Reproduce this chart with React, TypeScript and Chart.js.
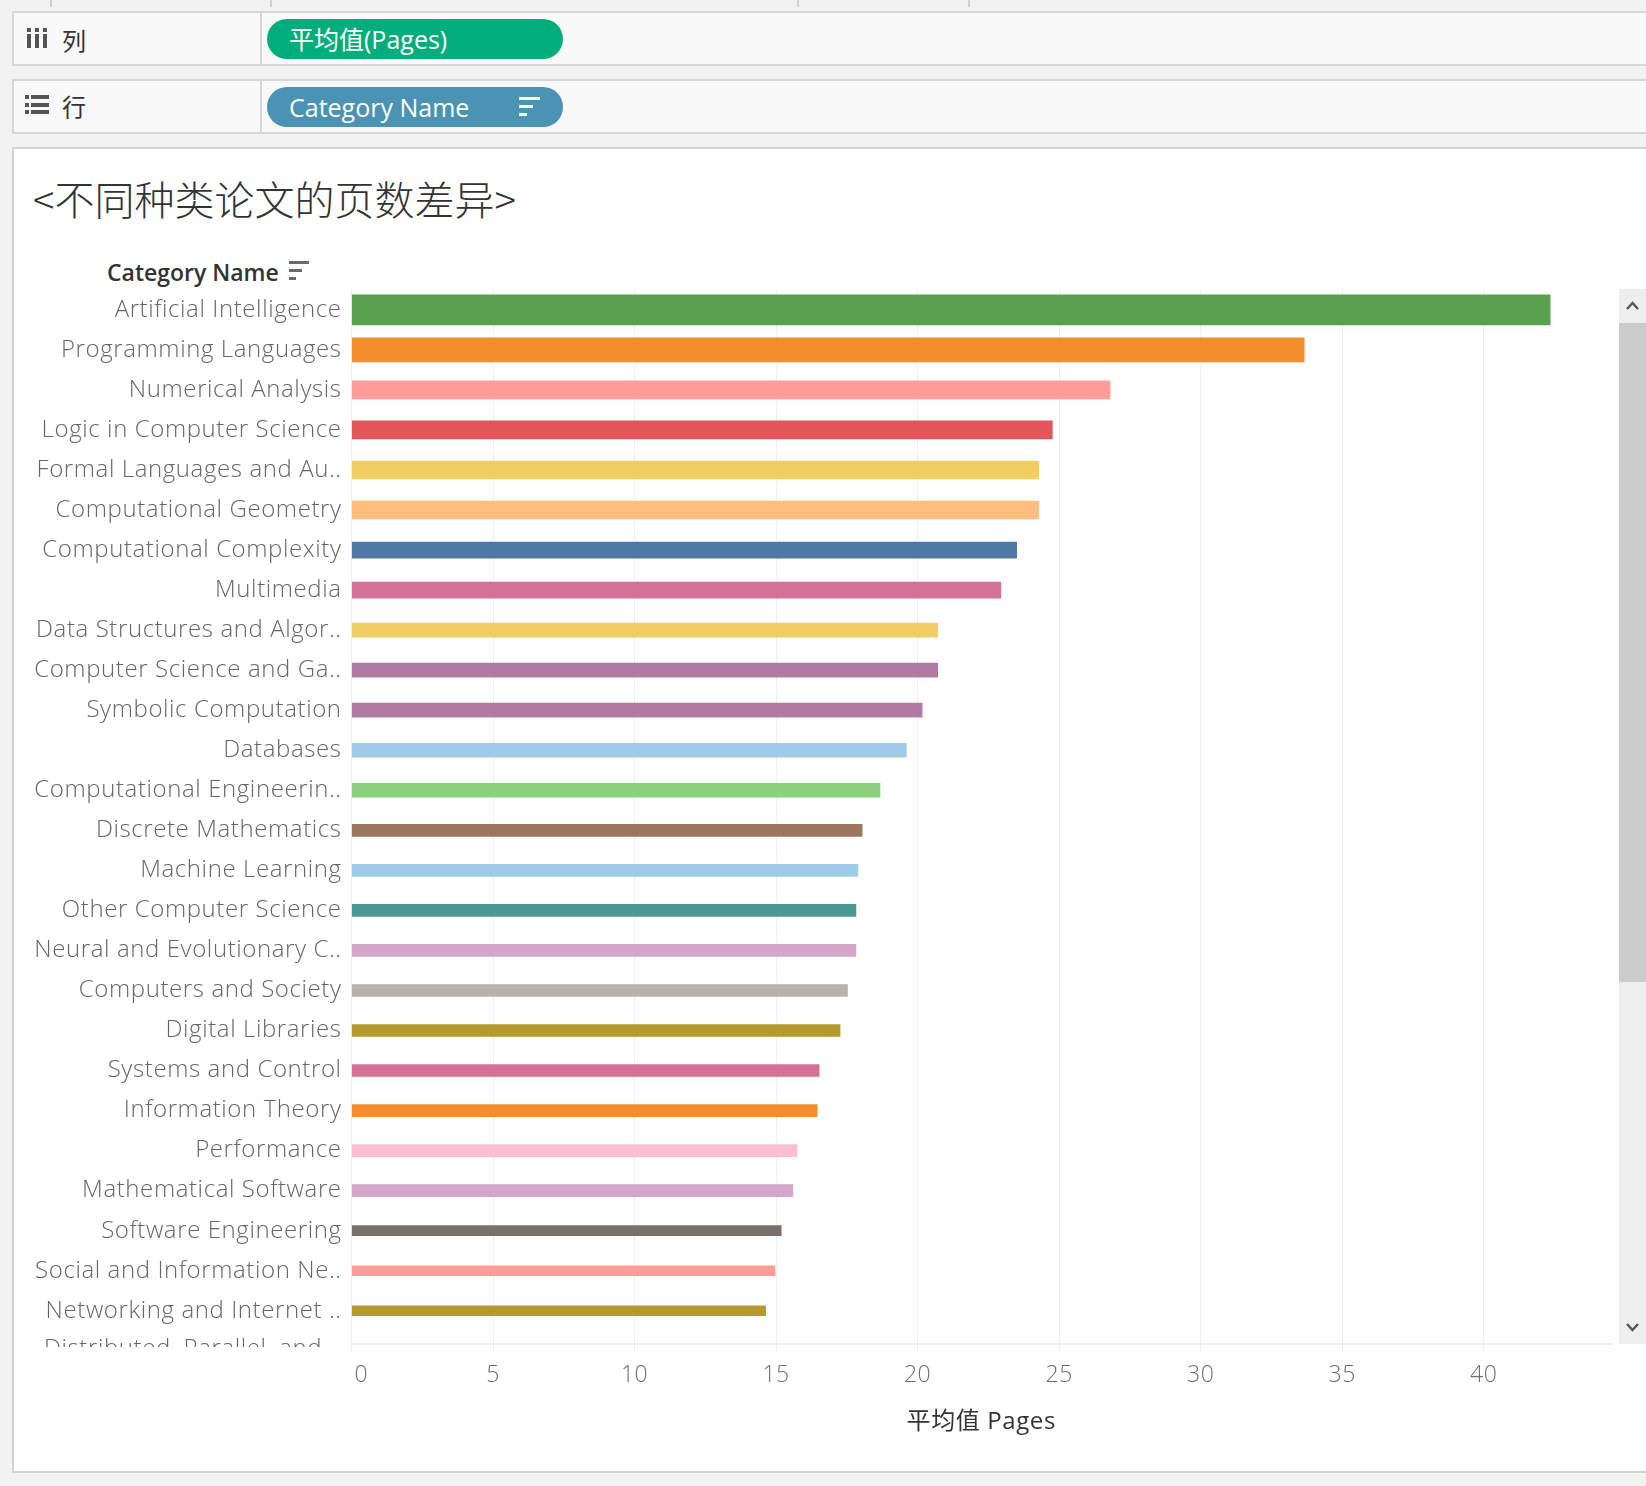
import React, { useEffect, useRef } from "react";
import { Chart, registerables } from "chart.js";

Chart.register(...registerables);

const categories = [
  "Artificial Intelligence",
  "Programming Languages",
  "Numerical Analysis",
  "Logic in Computer Science",
  "Formal Languages and Au..",
  "Computational Geometry",
  "Computational Complexity",
  "Multimedia",
  "Data Structures and Algor..",
  "Computer Science and Ga..",
  "Symbolic Computation",
  "Databases",
  "Computational Engineerin..",
  "Discrete Mathematics",
  "Machine Learning",
  "Other Computer Science",
  "Neural and Evolutionary C..",
  "Computers and Society",
  "Digital Libraries",
  "Systems and Control",
  "Information Theory",
  "Performance",
  "Mathematical Software",
  "Software Engineering",
  "Social and Information Ne..",
  "Networking and Internet ..",
  "Distributed, Parallel, and ..",
];

const avgPages = [
  42.35, 33.66, 26.8, 24.76, 24.28, 24.28, 23.5, 22.94, 20.71, 20.71, 20.16,
  19.6, 18.67, 18.04, 17.89, 17.82, 17.82, 17.52, 17.26, 16.52, 16.45, 15.74,
  15.59, 15.18, 14.96, 14.63, 14.4,
];

const barColors = [
  "#59A14F", "#F28E2B", "#FF9D9A", "#E15759", "#F1CE63", "#FFBE7D", "#4E79A7",
  "#D37295", "#F1CE63", "#B07AA1", "#B07AA1", "#A0CBE8", "#8CD17D", "#9D7660",
  "#A0CBE8", "#499894", "#D4A6C8", "#BAB0AC", "#B6992D", "#D37295", "#F28E2B",
  "#FABFD2", "#D4A6C8", "#79706E", "#FF9D9A", "#B6992D", "#86BCB6",
];

const xTickValues = [0, 5, 10, 15, 20, 25, 30, 35, 40];
const xAxisTitle = "平均值 Pages";
const chartTitle = "<不同种类论文的页数差异>";
const columnsPill = "平均值(Pages)";
const rowsPill = "Category Name";
const rowsHeader = "Category Name";

const FONT = "'Open Sans', 'Noto Sans CJK SC', sans-serif";
const LABEL_PAD = 10;

// size encoding (Tableau "size" mark) – stepped by value
function barSize(v: number): number {
  if (v >= 40) return 30;
  if (v >= 30) return 24;
  if (v >= 24) return 18;
  if (v >= 22) return 16;
  if (v >= 18.5) return 14;
  if (v >= 15.5) return 12;
  return 10;
}

const letterSpacingPlugin = {
  id: "letterSpacing",
  beforeDraw(chart: any) {
    (chart.ctx as any).letterSpacing = "0.6px";
  },
};

const partialLabelPlugin = {
  id: "partialLabel",
  afterDraw(chart: any) {
    const y = chart.scales.y;
    const area = chart.chartArea;
    const ctx = chart.ctx;
    const idx = categories.length - 1;
    const py = y.getPixelForValue(idx);
    ctx.save();
    ctx.beginPath();
    ctx.rect(0, 0, y.right, area.bottom + 3);
    ctx.clip();
    ctx.font = "300 24px " + FONT;
    ctx.fillStyle = "#666666";
    ctx.textAlign = "right";
    ctx.textBaseline = "middle";
    ctx.fillText(categories[idx], y.right - LABEL_PAD, py - 2);
    ctx.restore();
  },
};

function SortIcon({ x, y, color, w }: { x: number; y: number; color: string; w: number }) {
  const h = 3.4;
  return (
    <div style={{ position: "absolute", left: x, top: y }}>
      <div style={{ position: "absolute", left: 0, top: 0, width: w, height: h, background: color }} />
      <div style={{ position: "absolute", left: 0, top: 8, width: w * 0.65, height: h, background: color }} />
      <div style={{ position: "absolute", left: 0, top: 16, width: w * 0.36, height: h, background: color }} />
    </div>
  );
}

export default function App() {
  const ref = useRef<HTMLCanvasElement>(null);

  useEffect(() => {
    const datasets = categories.map((c, i) => ({
      label: c,
      data: [{ x: avgPages[i], y: i }],
      backgroundColor: barColors[i],
      maxBarThickness: barSize(avgPages[i]),
      categoryPercentage: 1,
      barPercentage: 1,
      grouped: false,
      clip: 0,
    }));

    const chart = new Chart(ref.current as HTMLCanvasElement, {
      type: "bar",
      data: { datasets: datasets as any },
      plugins: [letterSpacingPlugin, partialLabelPlugin],
      options: {
        indexAxis: "y",
        responsive: false,
        animation: false,
        devicePixelRatio: 1,
        layout: { padding: { top: 9, right: 3, left: 0, bottom: 0 } },
        plugins: {
          legend: { display: false },
          tooltip: { enabled: false },
          title: { display: false },
        },
        scales: {
          x: {
            type: "linear",
            position: "bottom",
            bounds: "data",
            offset: false,
            min: 0,
            max: 44.5,
            afterBuildTicks: (s: any) => {
              s.ticks = xTickValues.map((v) => ({ value: v }));
            },
            afterFit: (s: any) => {
              s.height = 96;
              s.paddingLeft = 0;
              s.paddingRight = 0;
            },
            ticks: {
              padding: 9,
              color: "#6e6e6e",
              font: { family: FONT, size: 23, weight: "300" as any },
              maxRotation: 0,
              autoSkip: false,
              callback: (v: any) => (v === 0 ? "   0" : String(v)),
            },
            grid: {
              color: "#efefef",
              lineWidth: 1,
              drawTicks: true,
              tickLength: 9,
              offset: false,
            },
            border: { display: true, color: "#ececec", width: 2 },
            title: {
              display: true,
              text: xAxisTitle,
              color: "#333333",
              font: { family: FONT, size: 24 },
              padding: { top: 0, bottom: 3 },
            },
          },
          y: {
            type: "linear",
            reverse: true,
            bounds: "data",
            offset: false,
            min: -0.52,
            max: 25.83,
            afterBuildTicks: (s: any) => {
              s.ticks = categories.map((_, i) => ({ value: i })).filter((t) => t.value <= 25.83);
            },
            afterFit: (s: any) => {
              s.width = 337.6;
              s.paddingTop = 0;
              s.paddingBottom = 0;
            },
            ticks: {
              autoSkip: false,
              padding: LABEL_PAD,
              color: "#666666",
              font: { family: FONT, size: 24, weight: "300" as any },
              callback: (v: any) => (categories[v] !== undefined ? categories[v] : ""),
            },
            grid: { display: false, drawTicks: false, tickLength: 0, offset: false },
            border: { display: false },
          },
        },
      } as any,
    });
    return () => chart.destroy();
  }, []);

  const shelfBorder = "2px solid #d6d6d6";

  return (
    <div
      style={{
        position: "absolute",
        left: 0,
        top: 0,
        width: 1646,
        height: 1486,
        background: "#f2f2f2",
        overflow: "hidden",
        fontFamily: FONT,
      }}
    >
      {/* top strip marks */}
      {[50, 270, 797, 968].map((x) => (
        <div key={x} style={{ position: "absolute", left: x, top: 0, width: 2, height: 7, background: "#d0d0d0" }} />
      ))}

      {/* Columns shelf */}
      <div
        style={{
          position: "absolute",
          left: 12,
          top: 11,
          width: 1660,
          height: 55,
          background: "#f9f9f9",
          border: shelfBorder,
          boxSizing: "border-box",
        }}
      />
      <div style={{ position: "absolute", left: 260, top: 11, width: 2, height: 55, background: "#d6d6d6" }} />
      {[27, 35, 43].map((x) => (
        <div key={x}>
          <div style={{ position: "absolute", left: x, top: 28, width: 4, height: 4, background: "#555" }} />
          <div style={{ position: "absolute", left: x, top: 34, width: 4, height: 14, background: "#555" }} />
        </div>
      ))}
      <div
        style={{
          position: "absolute",
          left: 62,
          top: 24,
          fontSize: 24,
          lineHeight: "32px",
          color: "#333",
          fontFamily: "'Noto Sans CJK SC', sans-serif",
        }}
      >
        列
      </div>
      <div
        style={{
          position: "absolute",
          left: 267,
          top: 19,
          width: 296,
          height: 40,
          borderRadius: 20,
          background: "#00AE7B",
          color: "#fff",
          fontSize: 25,
          lineHeight: "40px",
          paddingLeft: 22,
          boxSizing: "border-box",
          whiteSpace: "nowrap",
        }}
      >
        {columnsPill}
      </div>

      {/* Rows shelf */}
      <div
        style={{
          position: "absolute",
          left: 12,
          top: 79,
          width: 1660,
          height: 55,
          background: "#f9f9f9",
          border: shelfBorder,
          boxSizing: "border-box",
        }}
      />
      <div style={{ position: "absolute", left: 260, top: 79, width: 2, height: 55, background: "#d6d6d6" }} />
      {[95, 103, 110].map((y) => (
        <div key={y}>
          <div style={{ position: "absolute", left: 25, top: y, width: 4, height: 4, background: "#555" }} />
          <div style={{ position: "absolute", left: 31, top: y, width: 18, height: 4, background: "#555" }} />
        </div>
      ))}
      <div
        style={{
          position: "absolute",
          left: 62,
          top: 90,
          fontSize: 24,
          lineHeight: "32px",
          color: "#333",
          fontFamily: "'Noto Sans CJK SC', sans-serif",
        }}
      >
        行
      </div>
      <div
        style={{
          position: "absolute",
          left: 267,
          top: 87,
          width: 296,
          height: 40,
          borderRadius: 20,
          background: "#4A93B2",
          color: "#fff",
          fontSize: 25,
          lineHeight: "40px",
          paddingLeft: 22,
          boxSizing: "border-box",
          whiteSpace: "nowrap",
        }}
      >
        {rowsPill}
      </div>
      <SortIcon x={519} y={97} color="#ffffff" w={21} />

      {/* Main panel */}
      <div
        style={{
          position: "absolute",
          left: 12,
          top: 147,
          width: 1660,
          height: 1326,
          background: "#ffffff",
          border: "2px solid #d3d3d3",
          boxSizing: "border-box",
        }}
      />
      <div
        style={{
          position: "absolute",
          left: 33,
          top: 176,
          fontSize: 40,
          lineHeight: "44px",
          color: "#333",
          fontFamily: "'Noto Sans CJK SC', sans-serif",
          fontWeight: 300,
          whiteSpace: "nowrap",
        }}
      >
        {chartTitle}
      </div>
      <div
        style={{
          position: "absolute",
          left: 107,
          top: 256,
          fontSize: 23,
          lineHeight: "32px",
          color: "#333",
          fontWeight: 600,
          whiteSpace: "nowrap",
        }}
      >
        {rowsHeader}
      </div>
      <SortIcon x={289} y={261} color="#6a6a6a" w={20} />

      <canvas
        ref={ref}
        width={1600}
        height={1160}
        style={{ position: "absolute", left: 14, top: 280, width: 1600, height: 1160 }}
      />

      {/* vertical scrollbar */}
      <div style={{ position: "absolute", left: 1619, top: 289, width: 27, height: 1055, background: "#eeeeee" }} />
      <div style={{ position: "absolute", left: 1619, top: 323, width: 27, height: 659, background: "#cbcbcb" }} />
      <svg style={{ position: "absolute", left: 1619, top: 289 }} width={27} height={34}>
        <polyline points="8,20 13.5,14 19,20" fill="none" stroke="#555" strokeWidth={2.4} />
      </svg>
      <svg style={{ position: "absolute", left: 1619, top: 1310 }} width={27} height={34}>
        <polyline points="8,14 13.5,20 19,14" fill="none" stroke="#555" strokeWidth={2.4} />
      </svg>
    </div>
  );
}
